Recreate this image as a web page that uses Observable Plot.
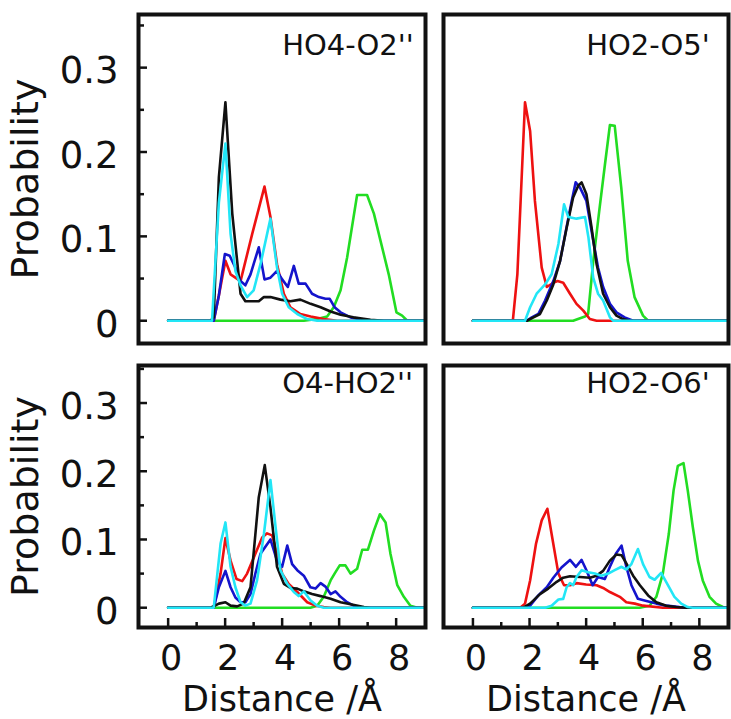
<!DOCTYPE html>
<html><head><meta charset="utf-8">
<script src="https://cdn.jsdelivr.net/npm/d3@7"></script>
<script src="https://cdn.jsdelivr.net/npm/@observablehq/plot@0.6"></script>
<style>
body{margin:0;background:#fff;}
#wrap{position:relative;width:731px;height:719px;background:#fff;overflow:hidden;}
#wrap svg{position:absolute;overflow:visible;}
</style></head><body><div id="wrap"></div>
<script>
// ---- categories / labels ----
const seriesNames = ["green curve", "red curve", "blue curve", "black curve", "cyan curve"];
const seriesColors = ["#22dd22", "#ee1111", "#1414cc", "#111111", "#22e6f6"];
const panelLabels = ["HO4-O2''", "HO2-O5'", "O4-HO2''", "HO2-O6'"];
const yTickValues = [0, 0.1, 0.2, 0.3];
const yTickLabels = ["0", "0.1", "0.2", "0.3"];
const yMinorTicks = [0.05, 0.15, 0.25, 0.35];
const xTickValues = [0, 2, 4, 6, 8];
const xTickLabels = ["0", "2", "4", "6", "8"];
const xMinorTicks = [1, 3, 5, 7];
const yTitle = "Probability";
const xTitle = "Distance /Å";

// ---- series values: [distance, probability] ----
// Panel 1: HO4-O2''
const p1Green = [[0,0],[4.76,0],[5.23,0.002],[5.58,0.005],[5.81,0.016],[6.05,0.036],[6.28,0.075],[6.63,0.149],[6.98,0.149],[7.22,0.127],[7.45,0.095],[7.74,0.055],[8.01,0.01],[8.21,0.006],[8.39,0],[9,0]];
const p1Red = [[0,0],[1.6,0],[1.78,0.03],[2.01,0.071],[2.19,0.055],[2.54,0.047],[2.95,0.103],[3.38,0.159],[3.59,0.123],[3.82,0.067],[4.06,0.032],[4.29,0.016],[4.64,0.008],[5.0,0.005],[5.46,0.002],[5.93,0],[9,0]];
const p1Blue = [[0,0],[1.6,0],[1.78,0.03],[1.99,0.079],[2.16,0.077],[2.36,0.063],[2.54,0.047],[2.71,0.042],[2.89,0.055],[3.18,0.087],[3.38,0.049],[3.59,0.051],[3.82,0.059],[4.0,0.049],[4.2,0.04],[4.41,0.065],[4.58,0.044],[4.82,0.044],[5.05,0.032],[5.29,0.028],[5.52,0.026],[5.67,0.026],[5.84,0.016],[6.05,0.01],[6.4,0.004],[6.87,0.001],[7.1,0],[9,0]];
const p1Black = [[0,0],[1.49,0],[1.6,0.004],[1.78,0.17],[2.01,0.259],[2.25,0.127],[2.54,0.032],[2.71,0.023],[3.18,0.023],[3.36,0.028],[3.59,0.028],[3.94,0.025],[4.29,0.023],[4.64,0.025],[5.0,0.02],[5.35,0.016],[5.7,0.011],[6.05,0.007],[6.5,0.004],[7.1,0.001],[7.57,0],[9,0]];
const p1Cyan = [[0,0],[1.54,0],[1.78,0.14],[2.01,0.21],[2.19,0.103],[2.36,0.059],[2.54,0.042],[2.77,0.028],[3.0,0.036],[3.24,0.067],[3.59,0.121],[3.82,0.063],[4.0,0.032],[4.23,0.016],[4.53,0.008],[4.88,0.002],[5.23,0],[9,0]];

// Panel 2: HO2-O5'
const p2Green = [[0,0],[3.54,0],[3.96,0.005],[4.07,0.008],[4.25,0.07],[4.48,0.135],[4.66,0.184],[4.84,0.232],[5.01,0.231],[5.24,0.158],[5.47,0.071],[5.71,0.028],[6.01,0.006],[6.19,0],[9,0]];
const p2Red = [[0,0],[1.41,0],[1.57,0.055],[1.84,0.259],[2.02,0.225],[2.19,0.142],[2.43,0.063],[2.61,0.04],[2.84,0.045],[2.99,0.047],[3.19,0.045],[3.43,0.032],[3.66,0.02],[3.9,0.012],[4.13,0.002],[4.37,0],[9,0]];
const p2Blue = [[0,0],[1.9,0],[2.08,0.004],[2.31,0.008],[2.55,0.024],[2.84,0.047],[3.08,0.071],[3.31,0.111],[3.49,0.142],[3.63,0.164],[3.78,0.158],[4.01,0.142],[4.25,0.095],[4.42,0.063],[4.6,0.04],[4.84,0.02],[5.07,0.01],[5.36,0.004],[5.66,0],[9,0]];
const p2Black = [[0,0],[1.9,0],[2.14,0.004],[2.37,0.008],[2.61,0.024],[2.84,0.043],[3.08,0.071],[3.31,0.11],[3.54,0.146],[3.72,0.16],[3.84,0.164],[4.01,0.15],[4.19,0.111],[4.37,0.067],[4.6,0.032],[4.84,0.016],[5.07,0.006],[5.3,0.002],[5.54,0],[9,0]];
const p2Cyan = [[0,0],[1.84,0],[2.02,0.016],[2.25,0.032],[2.55,0.043],[2.78,0.055],[3.02,0.091],[3.22,0.138],[3.37,0.123],[3.66,0.121],[3.96,0.123],[4.08,0.099],[4.25,0.051],[4.42,0.032],[4.6,0.024],[4.84,0.004],[4.95,0],[9,0]];

// Panel 3: O4-HO2''
const p3Green = [[0,0],[4.99,0],[5.23,0.003],[5.46,0.016],[5.7,0.04],[5.84,0.05],[6.02,0.062],[6.22,0.062],[6.4,0.05],[6.63,0.057],[6.81,0.085],[7.01,0.085],[7.22,0.113],[7.43,0.137],[7.63,0.125],[7.8,0.079],[8.04,0.033],[8.27,0.016],[8.5,0.003],[8.74,0],[9,0]];
const p3Red = [[0,0],[1.6,0],[1.84,0.05],[2.01,0.102],[2.19,0.069],[2.4,0.042],[2.6,0.039],[2.77,0.05],[3.06,0.079],[3.3,0.103],[3.47,0.109],[3.65,0.106],[3.82,0.079],[4.0,0.05],[4.23,0.035],[4.53,0.023],[4.88,0.008],[5.17,0.003],[5.46,0.001],[5.7,0],[9,0]];
const p3Blue = [[0,0],[1.6,0],[1.78,0.03],[2.01,0.054],[2.19,0.03],[2.36,0.015],[2.54,0.008],[2.71,0.008],[2.89,0.02],[3.06,0.05],[3.24,0.079],[3.59,0.1],[3.82,0.069],[4.0,0.06],[4.18,0.091],[4.35,0.064],[4.53,0.055],[4.76,0.047],[4.99,0.03],[5.17,0.028],[5.35,0.036],[5.52,0.031],[5.7,0.02],[5.87,0.024],[6.05,0.016],[6.28,0.008],[6.51,0.003],[6.87,0],[9,0]];
const p3Black = [[0,0],[1.49,0],[1.78,0.006],[2.01,0.008],[2.19,0.003],[2.42,0.002],[2.65,0.006],[2.89,0.03],[3.18,0.162],[3.39,0.209],[3.59,0.147],[3.82,0.06],[4.06,0.035],[4.29,0.029],[4.53,0.028],[4.76,0.024],[5.05,0.02],[5.35,0.017],[5.7,0.013],[6.05,0.008],[6.4,0.005],[6.87,0.001],[7.1,0],[9,0]];
const p3Cyan = [[0,0],[1.6,0],[1.84,0.094],[2.01,0.125],[2.19,0.06],[2.36,0.03],[2.54,0.008],[2.71,0.003],[2.89,0.006],[3.12,0.04],[3.36,0.108],[3.59,0.187],[3.77,0.118],[3.94,0.055],[4.18,0.035],[4.41,0.023],[4.58,0.017],[4.76,0.024],[4.99,0.011],[5.23,0.003],[5.46,0],[9,0]];

// Panel 4: HO2-O6'
const p4Green = [[0,0],[5.89,0],[6.24,0.003],[6.48,0.016],[6.71,0.05],[6.92,0.108],[7.09,0.172],[7.24,0.208],[7.44,0.212],[7.59,0.172],[7.77,0.118],[7.95,0.069],[8.12,0.04],[8.36,0.016],[8.59,0.006],[8.83,0.001],[9,0]];
const p4Red = [[0,0],[1.67,0],[1.84,0.006],[2.02,0.04],[2.23,0.094],[2.43,0.128],[2.63,0.145],[2.78,0.108],[3.02,0.05],[3.22,0.033],[3.43,0.033],[3.66,0.036],[4.0,0.034],[4.37,0.033],[4.6,0.029],[4.84,0.023],[5.19,0.016],[5.42,0.008],[5.72,0.006],[6.01,0.003],[6.71,0],[9,0]];
const p4Blue = [[0,0],[1.85,0],[2.02,0.003],[2.31,0.018],[2.61,0.03],[2.84,0.044],[3.13,0.059],[3.43,0.07],[3.64,0.06],[3.84,0.07],[4.01,0.055],[4.23,0.033],[4.42,0.045],[4.66,0.042],[4.84,0.06],[5.05,0.079],[5.25,0.091],[5.42,0.06],[5.6,0.033],[5.83,0.013],[6.13,0.01],[6.48,0.006],[6.83,0.003],[7.3,0.001],[7.65,0],[9,0]];
const p4Black = [[0,0],[1.78,0],[2.02,0.006],[2.37,0.02],[2.66,0.028],[2.96,0.038],[3.19,0.044],[3.43,0.046],[3.78,0.045],[4.13,0.044],[4.37,0.047],[4.6,0.054],[4.84,0.069],[5.07,0.078],[5.25,0.077],[5.42,0.065],[5.66,0.047],[5.9,0.033],[6.19,0.018],[6.48,0.008],[6.83,0.003],[7.18,0.001],[7.54,0],[9,0]];
const p4Cyan = [[0,0],[2.55,0],[2.78,0.003],[3.02,0.012],[3.19,0.013],[3.31,0.03],[3.43,0.036],[3.54,0.033],[3.66,0.045],[3.84,0.055],[4.07,0.052],[4.31,0.05],[4.54,0.047],[4.78,0.05],[5.01,0.055],[5.25,0.06],[5.42,0.056],[5.6,0.064],[5.83,0.086],[6.01,0.064],[6.24,0.045],[6.42,0.041],[6.65,0.051],[6.89,0.033],[7.12,0.016],[7.36,0.006],[7.59,0.001],[7.77,0],[9,0]];

const panelSeries = [
  [p1Green, p1Red, p1Blue, p1Black, p1Cyan],
  [p2Green, p2Red, p2Blue, p2Black, p2Cyan],
  [p3Green, p3Red, p3Blue, p3Black, p3Cyan],
  [p4Green, p4Red, p4Blue, p4Black, p4Cyan]
];

// ---- layout (styles, not data) ----
const layout = [
  {left: 0,   top: 0,   w: 431, h: 350, mt: 14, mb: 7,  ml: 138, mr: 6, yDomain: [-0.027, 0.363], yAxis: true,  xAxis: false},
  {left: 431, top: 0,   w: 300, h: 350, mt: 14, mb: 7,  ml: 12,  mr: 3, yDomain: [-0.027, 0.363], yAxis: false, xAxis: false},
  {left: 0,   top: 350, w: 431, h: 369, mt: 15, mb: 92, ml: 138, mr: 6, yDomain: [-0.029, 0.355], yAxis: true,  xAxis: true},
  {left: 431, top: 350, w: 300, h: 369, mt: 15, mb: 92, ml: 12,  mr: 3, yDomain: [-0.029, 0.355], yAxis: false, xAxis: true}
];
const xDomain = [-1.04, 9.03];
const FONT = "'DejaVu Sans', sans-serif";
const labelX = 4;        // panel label anchor (data units)
const labelY = 0.315;

const wrap = document.getElementById("wrap");

layout.forEach((L, i) => {
  const rows = [];
  panelSeries[i].forEach((s, k) => s.forEach(([x, y]) => rows.push({series: seriesNames[k], x, y})));
  const plotW = L.w - L.ml - L.mr, plotH = L.h - L.mt - L.mb;
  const xPerPx = (xDomain[1] - xDomain[0]) / plotW;
  const yPerPx = (L.yDomain[1] - L.yDomain[0]) / plotH;
  const marks = [
    Plot.line(rows, {x: "x", y: "y", z: "series", stroke: "series", strokeWidth: 2.6, strokeLinejoin: "round", strokeLinecap: "round"}),
    Plot.text([panelLabels[i]], {x: () => labelX, y: () => labelY, text: d => d, textAnchor: "start", lineAnchor: "bottom", fontSize: 29, fill: "#111"}),
    Plot.frame({stroke: "#111", strokeWidth: 4})
  ];
  if (L.yAxis) {
    marks.push(
      Plot.ruleY(yTickValues, {x1: xDomain[0], x2: xDomain[0] + 9 * xPerPx, stroke: "#111", strokeWidth: 2.5}),
      Plot.ruleY(yMinorTicks, {x1: xDomain[0], x2: xDomain[0] + 6 * xPerPx, stroke: "#111", strokeWidth: 2.5}),
      Plot.text(yTickValues, {frameAnchor: "left", y: d => d, text: (d, j) => yTickLabels[j], textAnchor: "end", lineAnchor: "middle", dx: -20, dy: 4, fontSize: 37, fill: "#111"}),
      Plot.text([yTitle], {frameAnchor: "left", text: d => d, rotate: -90, textAnchor: "middle", lineAnchor: "bottom", dx: -101, dy: 0, fontSize: 38, fill: "#111"})
    );
  }
  if (L.xAxis) {
    marks.push(
      Plot.ruleX(xTickValues, {y1: L.yDomain[0], y2: L.yDomain[0] + 9 * yPerPx, stroke: "#111", strokeWidth: 2.5}),
      Plot.ruleX(xMinorTicks, {y1: L.yDomain[0], y2: L.yDomain[0] + 5 * yPerPx, stroke: "#111", strokeWidth: 2.5}),
      Plot.text(xTickValues, {frameAnchor: "bottom", x: d => d, text: (d, j) => xTickLabels[j], textAnchor: "middle", lineAnchor: "bottom", dx: 3, dy: 42, fontSize: 35, fill: "#111"}),
      Plot.text([xTitle], {frameAnchor: "bottom", text: d => d, textAnchor: "middle", lineAnchor: "bottom", dy: 83, fontSize: 35, fill: "#111"})
    );
  }
  const svg = Plot.plot({
    width: L.w, height: L.h,
    marginTop: L.mt, marginBottom: L.mb, marginLeft: L.ml, marginRight: L.mr,
    x: {domain: xDomain, axis: null},
    y: {domain: L.yDomain, axis: null},
    color: {domain: seriesNames, range: seriesColors},
    style: {fontFamily: FONT, background: "transparent", overflow: "visible"},
    marks
  });
  svg.style.left = L.left + "px";
  svg.style.top = L.top + "px";
  svg.style.maxWidth = "none";
  wrap.appendChild(svg);
});
</script>
</body></html>
